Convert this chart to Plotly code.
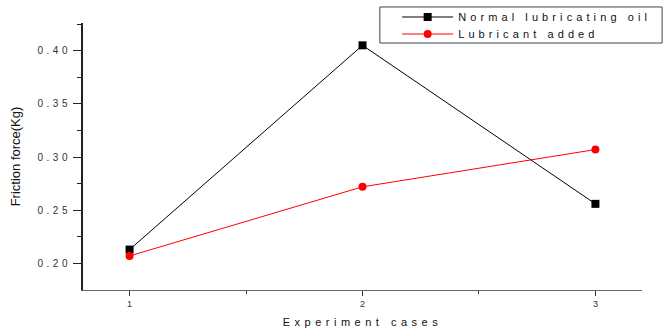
import plotly.graph_objects as go

cases = [1, 2, 3]
normal_oil = [0.213, 0.405, 0.256]
lubricant_added = [0.207, 0.272, 0.307]
y_ticks = [0.20, 0.25, 0.30, 0.35, 0.40]
y_tick_labels = ["0.20", "0.25", "0.30", "0.35", "0.40"]
x_tick_labels = ["1", "2", "3"]


def spaced(t, px):
    return f'<span style="letter-spacing:{px}px">{t}</span>'

fig = go.Figure()
fig.add_trace(go.Scatter(
    x=cases, y=normal_oil, mode="lines+markers",
    name=spaced("Normal lubricating oil", 4.1),
    line=dict(color="black", width=1),
    marker=dict(symbol="square", size=8, color="black"),
    legend="legend",
))
fig.add_trace(go.Scatter(
    x=cases, y=lubricant_added, mode="lines+markers",
    name=spaced("Lubricant added", 4.1),
    line=dict(color="red", width=1),
    marker=dict(symbol="circle", size=8, color="red"),
    legend="legend2",
))

fig.add_shape(type="rect", xref="paper", yref="paper",
              x0=0.531, x1=1.036, y0=0.925, y1=1.06,
              line=dict(color="#444", width=1), fillcolor="rgba(0,0,0,0)")

leg_common = dict(
    xanchor="left", yanchor="middle",
    bgcolor="rgba(0,0,0,0)", borderwidth=0,
    font=dict(size=11, color="#111"),
    tracegroupgap=0, itemwidth=51,
)

fig.update_layout(
    width=667, height=336,
    margin=dict(l=83, r=25, t=23, b=46, autoexpand=False),
    paper_bgcolor="white", plot_bgcolor="white",
    font=dict(family="Liberation Sans, Arial, sans-serif", color="#333"),
    showlegend=True,
    legend=dict(x=0.562, y=1.0225, **leg_common),
    legend2=dict(x=0.562, y=0.9588, **leg_common),
    xaxis=dict(
        range=[0.8, 3.2],
        tickmode="array", tickvals=cases, ticktext=x_tick_labels,
        ticks="outside", ticklen=5, tickcolor="#333", tickwidth=1,
        showline=True, linecolor="#666", linewidth=1,
        showgrid=False, zeroline=False,
        tickfont=dict(size=9, color="#333"),
        minor=dict(tickvals=[1.5, 2.5], ticks="outside", ticklen=3, tickcolor="#333"),
        title=dict(text=spaced("Experiment cases", 4.5),
                   font=dict(size=11, color="#111"), standoff=10),
        automargin=False,
    ),
    yaxis=dict(
        range=[0.175, 0.426],
        tickmode="array", tickvals=y_ticks,
        ticktext=[spaced(t, 3.5) for t in y_tick_labels],
        ticks="outside", ticklen=8, tickcolor="#222", tickwidth=1,
        showline=True, linecolor="#222", linewidth=2,
        showgrid=False, zeroline=False,
        tickfont=dict(size=10, color="#333"),
        minor=dict(tickvals=[0.225, 0.275, 0.325, 0.375, 0.425], ticks="outside",
                   ticklen=4, tickcolor="#222"),
        title=dict(text="Friction force(Kg)", font=dict(size=13, color="#111"), standoff=14),
        automargin=False,
    ),
)

fig.write_html("out.html", config={"displayModeBar": False},
               post_script="document.body.style.margin='0';document.body.style.overflow='hidden';")
